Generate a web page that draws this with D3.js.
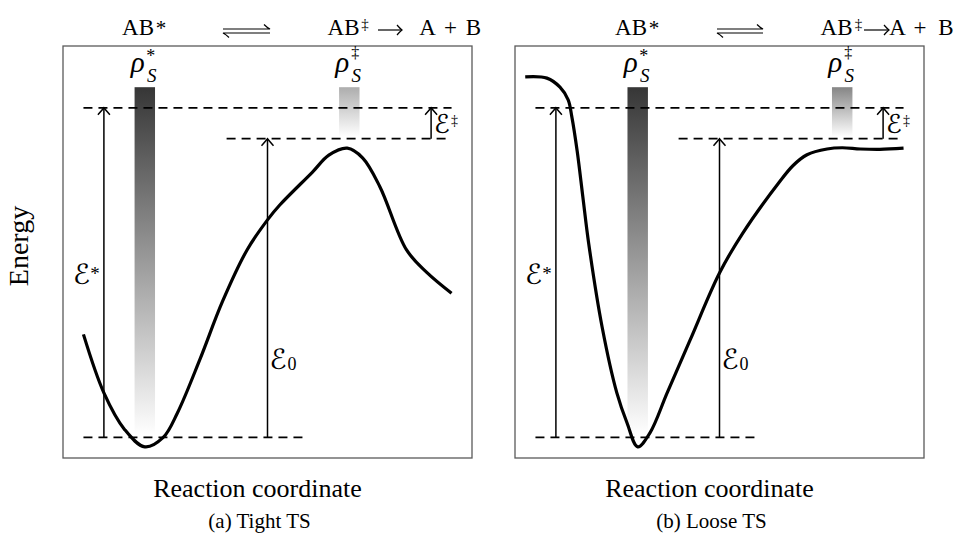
<!DOCTYPE html>
<html>
<head>
<meta charset="utf-8">
<script src="https://cdn.jsdelivr.net/npm/d3@7"></script>
<style>
  body { margin: 0; background: #fff; }
  svg { display: block; }
  text { font-family: "Liberation Serif", "Times New Roman", serif; fill: #000; }
  .script { font-family: "DejaVu Serif", "DejaVu Sans", serif; }
</style>
</head>
<body>
<svg id="chart" width="957" height="533"></svg>
<script>
// Potential energy along the reaction coordinate: [coordinate, energy]
const tightCurve = [
  [0.5, 2.5], [1.0, 1.08], [1.5, 0.2], [2.0, -0.23], [2.45, 0.0], [2.8, 0.6],
  [3.35, 1.9], [3.9, 3.3], [4.5, 4.55], [5.0, 5.28], [5.3, 5.64], [6.1, 6.44],
  [6.5, 6.85], [6.95, 7.02], [7.33, 6.78], [7.75, 6.08], [8.4, 4.55],
  [8.9, 4.0], [9.5, 3.5]
];
const looseCurve = [
  [0.25, 8.75], [0.78, 8.72], [1.1, 8.5], [1.3, 8.19], [1.39, 7.78], [1.52, 6.95],
  [1.66, 5.83], [1.8, 4.72], [2.13, 2.68], [2.49, 1.08], [2.74, 0.35], [3.0, -0.23],
  [3.3, 0.11], [3.72, 1.08], [4.28, 2.36], [5.0, 3.99], [5.57, 4.96], [6.45, 6.18],
  [6.8, 6.6], [7.14, 6.86], [7.63, 7.0], [8.0, 7.03], [8.44, 7.0], [8.92, 6.99], [9.5, 7.02]
];

// Energy levels (well bottom, threshold E0, excited level) and top of the density bars
const wellLevel = 0;
const thresholdLevel = 7.25;
const excitedLevel = 8;
const densityTop = 8.5;

// Reaction coordinate of the density-of-states bars [rho*, rho‡]
const tightDensityX = [2, 7];
const looseDensityX = [3, 8];
// Reaction coordinate of the energy arrows [E*, E0, E‡]
const arrowX = [1, 5, 9];
// Extent of the dashed level lines along the coordinate
const excitedSpan = [0.5, 9.5];
const thresholdSpan = [4, 9.5];
const wellSpan = [0.5, 6];

const xAxisLabel = "Reaction coordinate";
const yAxisLabel = "Energy";
const panelCaptions = ["(a) Tight TS", "(b) Loose TS"];

const svg = d3.select("#chart");
const defs = svg.append("defs");

const boxTop = 46, boxW = 409, boxH = 412;

function gradient(id, topColor) {
  const g = defs.append("linearGradient").attr("id", id)
    .attr("x1", 0).attr("y1", 0).attr("x2", 0).attr("y2", 1);
  g.append("stop").attr("offset", 0).attr("stop-color", topColor);
  g.append("stop").attr("offset", 1).attr("stop-color", "#fff");
}

function upArrow(g, x, yTop, yBottom) {
  g.append("line").attr("x1", x).attr("x2", x).attr("y1", yBottom).attr("y2", yTop + 0.5)
    .attr("stroke", "#000").attr("stroke-width", 1.5);
  g.append("path")
    .attr("d", `M${x - 6},${yTop + 7} Q${x - 2},${yTop + 2.5} ${x},${yTop} Q${x + 2},${yTop + 2.5} ${x + 6},${yTop + 7}`)
    .attr("fill", "none").attr("stroke", "#000").attr("stroke-width", 1.5);
}

function rightArrow(g, a, b, y) {
  g.append("line").attr("x1", a).attr("x2", b - 0.5).attr("y1", y).attr("y2", y)
    .attr("stroke", "#000").attr("stroke-width", 1.2);
  g.append("path")
    .attr("d", `M${b - 5},${y - 5} Q${b - 2},${y - 1.5} ${b},${y} Q${b - 2},${y + 1.5} ${b - 5},${y + 5}`)
    .attr("fill", "none").attr("stroke", "#000").attr("stroke-width", 1.2);
}

function harpoons(g, a, b, yUp, yDown) {
  g.append("path")
    .attr("d", `M${a},${yUp} L${b},${yUp} Q${b - 3},${yUp - 1.5} ${b - 6},${yUp - 4.5}`)
    .attr("fill", "none").attr("stroke", "#000").attr("stroke-width", 1.2);
  g.append("path")
    .attr("d", `M${b},${yDown} L${a},${yDown} Q${a + 3},${yDown + 1.5} ${a + 6},${yDown + 4.5}`)
    .attr("fill", "none").attr("stroke", "#000").attr("stroke-width", 1.2);
}

function header(g, p) {
  const base = 35;
  g.append("text").attr("x", p.ab1).attr("y", base).attr("text-anchor", "middle")
    .style("font-size", "23px").text("AB");
  g.append("text").attr("x", p.star).attr("y", 35).attr("text-anchor", "middle")
    .style("font-size", "21px").text("*");
  harpoons(g, p.harpoon[0], p.harpoon[1], 29, 33);
  g.append("text").attr("x", p.ab2).attr("y", base).attr("text-anchor", "middle")
    .style("font-size", "23px").text("AB");
  g.append("text").attr("x", p.dagger).attr("y", 29).attr("text-anchor", "middle")
    .style("font-size", "15px").text("‡");
  rightArrow(g, p.arrow[0], p.arrow[1], 30);
  g.append("text").attr("x", p.A).attr("y", base).attr("text-anchor", "middle")
    .style("font-size", "23px").text("A");
  g.append("text").attr("x", p.plus).attr("y", base).attr("text-anchor", "middle")
    .style("font-size", "23px").text("+");
  g.append("text").attr("x", p.B).attr("y", base).attr("text-anchor", "middle")
    .style("font-size", "23px").text("B");
}

function densityLabel(g, cx, mark) {
  g.append("text").attr("x", cx - 7).attr("y", 72).attr("text-anchor", "middle")
    .style("font-size", "29px").style("font-style", "italic").text("ρ");
  g.append("text").attr("x", cx + 7).attr("y", 82).attr("text-anchor", "middle")
    .style("font-size", "19px").style("font-style", "italic").text("S");
  g.append("text").attr("x", cx + 6).attr("y", mark === "*" ? 62 : 58).attr("text-anchor", "middle")
    .style("font-size", mark === "*" ? "18px" : "16px").text(mark);
}

function drawPanel(i, x0, curve, densX, shades, head) {
  const g = svg.append("g");
  const x = d3.scaleLinear().domain([0, 10]).range([x0, x0 + boxW]);
  const y = d3.scaleLinear().domain([-0.5, 9.5]).range([boxTop + boxH, boxTop]);

  g.append("rect").attr("x", x0).attr("y", boxTop).attr("width", boxW).attr("height", boxH)
    .attr("fill", "none").attr("stroke", "#5a5a5a").attr("stroke-width", 1.3);

  // density-of-states bars
  const barW = x(0.5) - x(0);
  const bars = [
    { cx: densX[0], top: densityTop, bottom: wellLevel, id: `rhoStar${i}`, shade: shades[0], mark: "*" },
    { cx: densX[1], top: densityTop, bottom: thresholdLevel, id: `rhoTS${i}`, shade: shades[1], mark: "‡" }
  ];
  bars.forEach(b => {
    gradient(b.id, b.shade);
    g.append("rect").attr("x", x(b.cx) - barW / 2).attr("y", y(b.top))
      .attr("width", barW).attr("height", y(b.bottom) - y(b.top) - 2)
      .attr("fill", `url(#${b.id})`);
    densityLabel(g, x(b.cx), b.mark);
  });

  // dashed energy levels
  [[excitedLevel, excitedSpan], [thresholdLevel, thresholdSpan], [wellLevel, wellSpan]].forEach(([lv, sp]) => {
    g.append("line").attr("x1", x(sp[0])).attr("x2", x(sp[1])).attr("y1", y(lv)).attr("y2", y(lv))
      .attr("stroke", "#000").attr("stroke-width", 1.8).attr("stroke-dasharray", "9,6");
  });

  // energy arrows
  upArrow(g, x(arrowX[0]), y(excitedLevel), y(wellLevel));
  upArrow(g, x(arrowX[1]), y(thresholdLevel), y(wellLevel));
  upArrow(g, x(arrowX[2]), y(excitedLevel), y(thresholdLevel));

  // arrow labels
  const eStarY = y((excitedLevel + wellLevel) / 2) + 11;
  g.append("text").attr("class", "script").attr("x", x(arrowX[0]) - 14).attr("y", eStarY)
    .attr("text-anchor", "end").style("font-size", "28px").text("ℰ");
  g.append("text").attr("x", x(arrowX[0]) - 9).attr("y", eStarY - 4)
    .attr("text-anchor", "middle").style("font-size", "19px").text("*");

  const e0Y = y(1.93) + 11;
  g.append("text").attr("class", "script").attr("x", x(arrowX[1]) + 2).attr("y", e0Y)
    .style("font-size", "28px").text("ℰ");
  g.append("text").attr("x", x(arrowX[1]) + 20).attr("y", e0Y + 1)
    .style("font-size", "18px").text("0");

  const eTsY = y((excitedLevel + thresholdLevel) / 2) + 10;
  g.append("text").attr("class", "script").attr("x", x(arrowX[2]) + 3).attr("y", eTsY)
    .style("font-size", "26px").text("ℰ");
  g.append("text").attr("x", x(arrowX[2]) + 20).attr("y", eTsY - 8)
    .style("font-size", "14px").text("‡");

  // potential energy curve
  const line = d3.line().x(d => x(d[0])).y(d => y(d[1])).curve(d3.curveCatmullRom.alpha(0.5));
  g.append("path").datum(curve).attr("d", line)
    .attr("fill", "none").attr("stroke", "#000").attr("stroke-width", 3.2)
    .attr("stroke-linejoin", "round").attr("stroke-linecap", "butt");

  // axis label and caption
  g.append("text").attr("x", x0 + boxW / 2 - 10).attr("y", 497).attr("text-anchor", "middle")
    .style("font-size", "26px").text(xAxisLabel);
  g.append("text").attr("x", x0 + boxW / 2 - 8).attr("y", 528).attr("text-anchor", "middle")
    .style("font-size", "21px").text(panelCaptions[i]);

  header(g, head);
}

drawPanel(0, 63, tightCurve, tightDensityX, ["#363636", "#adadad"], {
  ab1: 138, star: 161, harpoon: [223, 270], ab2: 343.5, dagger: 365,
  arrow: [378, 402], A: 427.5, plus: 450.5, B: 473.5
});
drawPanel(1, 515, looseCurve, looseDensityX, ["#363636", "#858585"], {
  ab1: 631, star: 654, harpoon: [717, 763], ab2: 836.5, dagger: 858.5,
  arrow: [864, 889], A: 897.5, plus: 920, B: 946
});

svg.append("text").attr("transform", "translate(28,246) rotate(-90)")
  .attr("text-anchor", "middle").style("font-size", "28px").text(yAxisLabel);
</script>
</body>
</html>
